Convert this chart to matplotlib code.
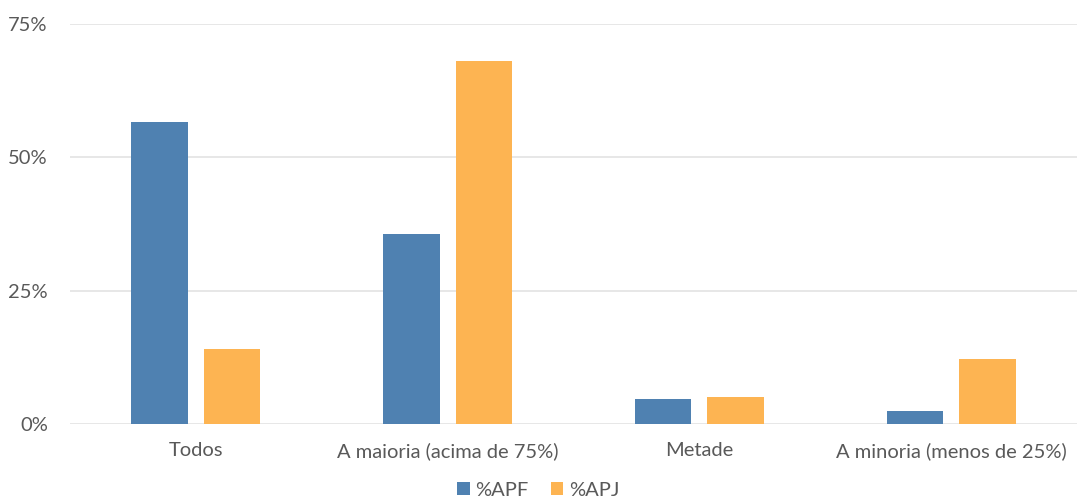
import matplotlib
matplotlib.use("Agg")
import matplotlib.pyplot as plt
import numpy as np
from matplotlib.ticker import FuncFormatter

categories = ["Todos", "A maioria (acima de 75%)", "Metade", "A minoria (menos de 25%)"]
series_names = ["%APF", "%APJ"]
apf = [56.7, 35.6, 4.7, 2.5]
apj = [14.1, 68.1, 5.1, 12.2]
yticks = [0, 25, 50, 75]

plt.rcParams['font.family'] = ['Lato', 'DejaVu Sans']
txt = '#595959'

fig = plt.figure(figsize=(10.77, 5.04), dpi=100)
ax = fig.add_axes([70/1077, 80/504, 1 - 70/1077, 400/504])

x = np.arange(len(categories))
w = 0.225
off = 0.144
ax.bar(x - off, apf, w, color='#4F81B1', label=series_names[0], zorder=3)
ax.bar(x + off, apj, w, color='#FDB452', label=series_names[1], zorder=3)

ax.set_xlim(-0.5, 3.5)
ax.set_ylim(0, 75)
ax.set_yticks(yticks)
ax.yaxis.set_major_formatter(FuncFormatter(lambda v, p: f"{int(v)}%"))
ax.set_xticks(x)
ax.set_xticklabels(categories)
ax.grid(axis='y', color='#E3E3E3', linewidth=1.2, zorder=0)
for s in ax.spines.values():
    s.set_visible(False)
ax.tick_params(axis='both', length=0, colors=txt, labelsize=14.5)
ax.tick_params(axis='y', pad=16)
ax.tick_params(axis='x', pad=13)
ax.set_clip_on(False)

leg = fig.legend(loc='center', bbox_to_anchor=(0.5, 14/504), ncol=2, frameon=False,
                 fontsize=14.5, handlelength=0.6, handleheight=0.6, columnspacing=1.1,
                 handletextpad=0.3)
for t in leg.get_texts():
    t.set_color(txt)

fig.savefig("out.png", dpi=100)
